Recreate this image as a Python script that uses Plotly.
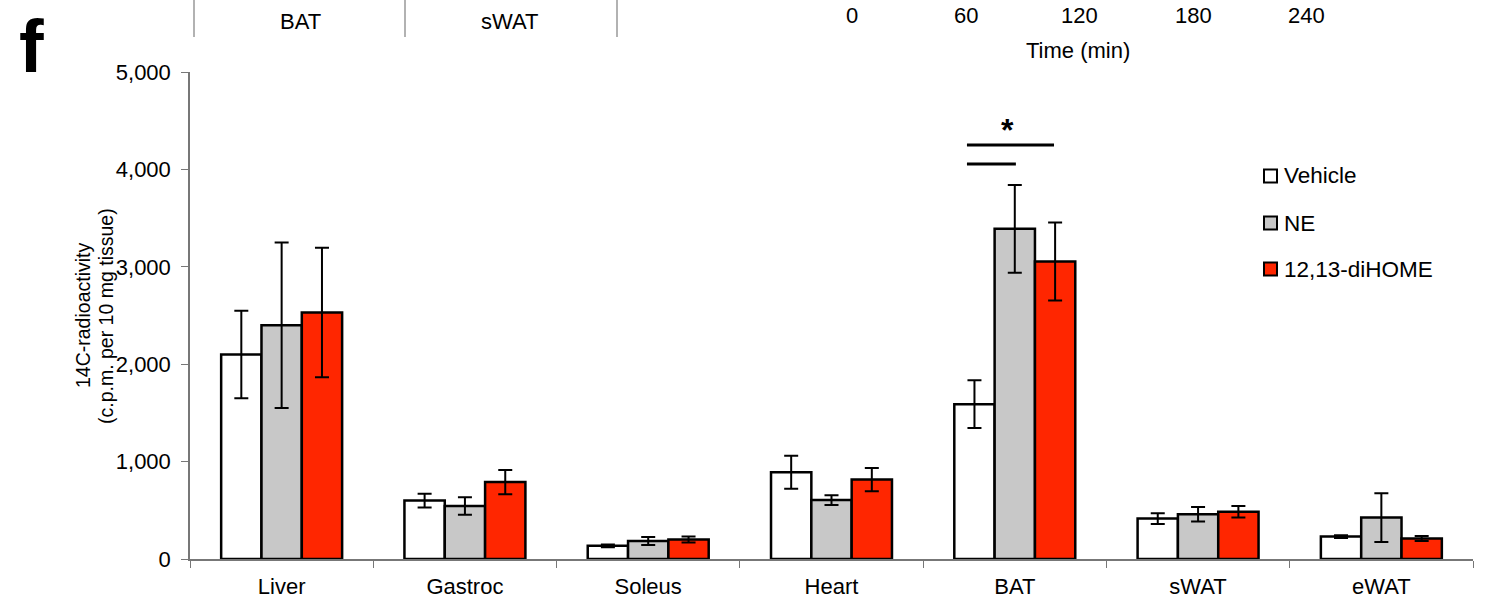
import plotly.graph_objects as go

categories = ["Liver", "Gastroc", "Soleus", "Heart", "BAT", "sWAT", "eWAT"]
series_names = ["Vehicle", "NE", "12,13-diHOME"]
series_colors = ["#FFFFFF", "#C8C8C8", "#FF2600"]

vehicle = [2100, 600, 135, 890, 1590, 415, 230]
vehicle_err = [450, 70, 15, 170, 245, 55, 15]
ne = [2400, 545, 185, 605, 3390, 460, 425]
ne_err = [850, 90, 40, 50, 450, 75, 250]
dihome = [2530, 790, 200, 815, 3055, 485, 210]
dihome_err = [665, 125, 30, 120, 400, 60, 25]

y_ticks = [0, 1000, 2000, 3000, 4000, 5000]
y_title_lines = ["14C-radioactivity", "(c.p.m. per 10 mg tissue)"]
top_tissue_labels = ["BAT", "sWAT"]
top_time_labels = ["0", "60", "120", "180", "240"]

values = [vehicle, ne, dihome]
errors = [vehicle_err, ne_err, dihome_err]

W, H = 1486, 613
L, R, T, B = 190, 13, 72, 54
PW, PH = W - L - R, H - T - B
FONT = "Liberation Sans, Arial, sans-serif"


def px(x):
    return (x - L) / PW


def py(y):
    return (H - B - y) / PH


def note(x, y, text, size, **kw):
    d = dict(x=px(x), y=py(y), xref="paper", yref="paper", text=text,
             showarrow=False, xanchor="center", yanchor="middle",
             font=dict(family=FONT, size=size, color="black"))
    d.update(kw)
    return d


fig = go.Figure()
for name, col, v, e in zip(series_names, series_colors, values, errors):
    fig.add_trace(go.Bar(
        x=categories, y=v, name=name,
        marker=dict(color=col, line=dict(color="black", width=2.5)),
        error_y=dict(type="data", array=e, visible=True, color="black",
                     thickness=2, width=7),
        showlegend=False,
    ))

shapes = []
annotations = []

# significance bars over BAT
shapes.append(dict(type="line", xref="x", yref="y", x0=3.739, x1=4.214,
                   y0=4250, y1=4250, line=dict(color="black", width=3)))
shapes.append(dict(type="line", xref="x", yref="y", x0=3.739, x1=4.006,
                   y0=4055, y1=4055, line=dict(color="black", width=3)))
annotations.append(note(1007, 130, "<b>*</b>", 32))

# manual legend
leg_y = [176, 223, 269]
for name, col, yy in zip(series_names, series_colors, leg_y):
    shapes.append(dict(type="rect", xref="paper", yref="paper",
                       x0=px(1264), x1=px(1277), y0=py(yy - 6.5), y1=py(yy + 6.5),
                       fillcolor=col, line=dict(color="black", width=2)))
    annotations.append(note(1282, yy, name, 22.5, xanchor="left"))

# y axis title (two rotated lines)
for txt, xx in zip(y_title_lines, [83, 106]):
    annotations.append(note(xx, 316, txt, 19.5, textangle=-90))

# panel letter
annotations.append(note(31, 47, "<b>f</b>", 74))

# top strip (cropped part of the panel above)
for xline in [194, 405, 617]:
    shapes.append(dict(type="line", xref="paper", yref="paper",
                       x0=px(xline), x1=px(xline), y0=py(0), y1=py(37),
                       line=dict(color="#999999", width=1.5)))
for lab, xx in zip(top_tissue_labels, [300, 509]):
    annotations.append(note(xx, 22, lab, 22))
for lab, xx in zip(top_time_labels, [852, 966, 1079, 1193, 1306]):
    annotations.append(note(xx, 15, lab, 22))
annotations.append(note(1078, 50, "Time (min)", 22))

fig.update_layout(
    width=W, height=H,
    margin=dict(l=L, r=R, t=T, b=B, pad=0),
    paper_bgcolor="white", plot_bgcolor="white",
    barmode="group", bargap=0.34, bargroupgap=0,
    font=dict(family=FONT, size=22, color="black"),
    shapes=shapes, annotations=annotations,
    xaxis=dict(type="category", range=[-0.5, 6.5], tickson="boundaries",
               ticks="outside", ticklen=7, tickcolor="#777777",
               showline=True, linecolor="#777777", linewidth=1.5,
               showgrid=False, tickfont=dict(size=22), ticklabelstandoff=7),
    yaxis=dict(range=[0, 5000], tickvals=y_ticks, tickformat=",",
               ticks="outside", ticklen=7, tickcolor="#777777",
               showline=True, linecolor="#777777", linewidth=1.5,
               showgrid=False, zeroline=False, tickfont=dict(size=22),
               ticklabelstandoff=6),
)

fig.write_html("out.html")
